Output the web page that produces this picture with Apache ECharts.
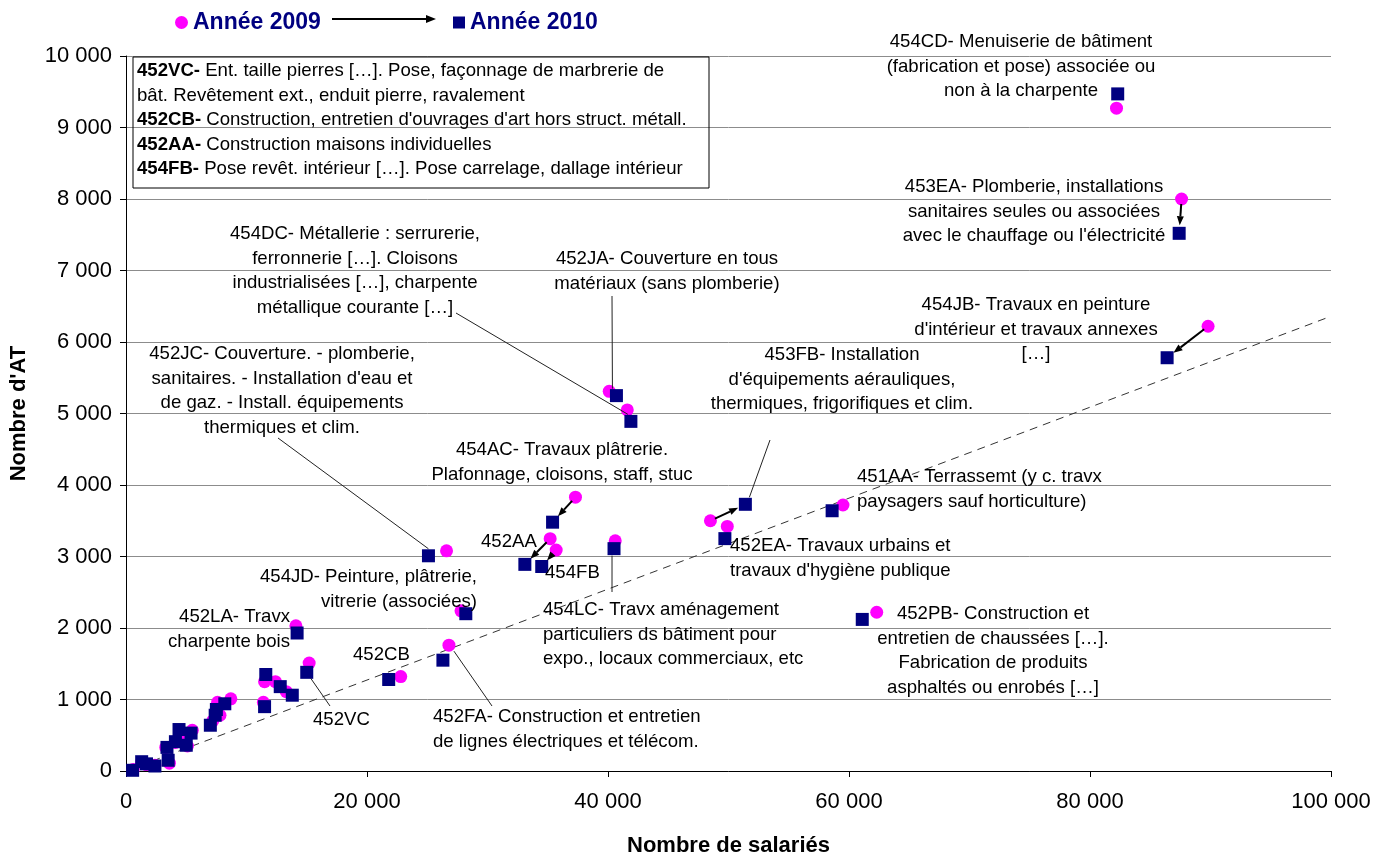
<!DOCTYPE html>
<html><head><meta charset="utf-8">
<script src="https://cdn.jsdelivr.net/npm/echarts@6/dist/echarts.min.js"></script>
<style>html,body{margin:0;padding:0;background:#fff}#c{width:1389px;height:857px}</style>
</head><body><div id="c"></div>
<script>
// ---- DATA ----
const codes = ['454CD','453EA','454JB','452JA','454DC','454AC','452AA','454FB','454LC','452JC','453FB','452EA','451AA','452PB','454JD','452LA','452CB','452FA','452VC',
  '','','','','','','','','','','','','','','','','',''];
const x2009 = [82200, 87600, 89800, 40100, 41600, 37300, 35200, 35700, 40600, 26600, 48500, 49900, 59500, 62300, 27800, 14100, 22800, 26800, 15200,
  11500, 12400, 13300, 11400, 8700, 7600, 7800, 7200, 5500, 5100, 4500, 3300, 4100, 3600, 2400, 1300, 600, 1700];
const y2009 = [9270, 8000, 6220, 5310, 5050, 3830, 3250, 3090, 3220, 3080, 3500, 3420, 3720, 2220, 2240, 2030, 1320, 1760, 1510,
  1250, 1250, 1110, 960, 1010, 960, 780, 700, 570, 350, 430, 330, 400, 110, 80, 120, 20, 90];
const x2010 = [82300, 87400, 86400, 40700, 41900, 35400, 33100, 34500, 40500, 25100, 51400, 49700, 58600, 61100, 28200, 14200, 21800, 26300, 15000,
  11600, 12800, 13800, 11500, 8200, 7500, 7400, 7000, 5400, 5000, 4400, 3400, 4100, 3500, 2400, 1300, 550, 1700];
const y2010 = [9470, 7520, 5780, 5250, 4890, 3480, 2890, 2860, 3110, 3010, 3730, 3250, 3640, 2120, 2200, 1930, 1280, 1550, 1380,
  1350, 1180, 1060, 900, 940, 860, 780, 640, 530, 360, 580, 330, 410, 150, 70, 130, 10, 100];
const trendX = [0, 100000];
const trendY = [0, 6360];
const arrowCodes = ['454AC','452AA','454FB','453FB','453EA','454JB'];
// ---- END DATA ----

const FONT = '"Liberation Sans", Arial, sans-serif';
const fmt = v => String(v).replace(/\B(?=(\d{3})+(?!\d))/g, ' ');
const chart = echarts.init(document.getElementById('c'), null, {renderer: 'canvas'});

const s2009 = x2009.map((x, i) => [x, y2009[i]]);
const s2010 = x2010.map((x, i) => [x, y2010[i]]);
const trend = trendX.map((x, i) => [x, trendY[i]]);

const option = {
  animation: false,
  backgroundColor: '#fff',
  textStyle: {fontFamily: FONT},
  grid: {left: 126, right: 58, top: 56, bottom: 86, containLabel: false, outerBoundsMode: 'none'},
  legend: [
    {data: ['Année 2009'], left: 170, top: 6, icon: 'circle', itemWidth: 13, itemHeight: 13, itemGap: 6,
     textStyle: {fontFamily: FONT, fontSize: 23, fontWeight: 'bold', color: '#000080'}},
    {data: ['Année 2010'], left: 448, top: 6, icon: 'rect', itemWidth: 12, itemHeight: 12, itemGap: 6,
     textStyle: {fontFamily: FONT, fontSize: 23, fontWeight: 'bold', color: '#000080'}}
  ],
  xAxis: {
    type: 'value', min: 0, max: 100000, interval: 20000,
    name: 'Nombre de salariés', nameLocation: 'middle', nameGap: 64,
    nameTextStyle: {fontFamily: FONT, fontSize: 22, fontWeight: 'bold', color: '#000'},
    axisLine: {show: true, lineStyle: {color: '#000', width: 1}},
    axisTick: {show: true, inside: false, length: 6, lineStyle: {color: '#000'}},
    axisLabel: {fontFamily: FONT, fontSize: 22, color: '#000', margin: 20, formatter: fmt},
    splitLine: {show: false}
  },
  yAxis: {
    type: 'value', min: 0, max: 10000, interval: 1000,
    name: "Nombre d'AT", nameLocation: 'middle', nameGap: 96, nameRotate: 90,
    nameTextStyle: {fontFamily: FONT, fontSize: 22, fontWeight: 'bold', color: '#000'},
    axisLine: {show: true, lineStyle: {color: '#000', width: 1}},
    axisTick: {show: true, inside: false, length: 6, lineStyle: {color: '#000'}},
    axisLabel: {fontFamily: FONT, fontSize: 22, color: '#000', margin: 14, formatter: fmt},
    splitLine: {show: true, lineStyle: {color: '#8c8c8c', width: 1}}
  },
  series: [
    {type: 'line', name: 'trend', data: trend, symbol: 'none', silent: true, z: 1,
     lineStyle: {color: '#333', width: 1, type: [8, 6]}},
    {type: 'scatter', name: 'Année 2009', data: s2009, symbol: 'circle', symbolSize: 13, z: 3,
     itemStyle: {color: '#FF00FF', opacity: 1}},
    {type: 'scatter', name: 'Année 2010', data: s2010, symbol: 'rect', symbolSize: 13, z: 4,
     itemStyle: {color: '#000080', opacity: 1}}
  ]
};
chart.setOption(option);

// ---- Annotations (layout in pixels) ----
const LH = 24.5, FS = 18.6;
const notes = [
  {t: '454CD- Menuiserie de bâtiment\n(fabrication et pose) associée ou\nnon à la charpente', x: 1021, y: 42, a: 'center'},
  {t: "453EA- Plomberie, installations\nsanitaires seules ou associées\navec le chauffage ou l'électricité", x: 1034, y: 187, a: 'center'},
  {t: "454JB- Travaux en peinture\nd'intérieur et travaux annexes\n[…]", x: 1036, y: 305, a: 'center'},
  {t: '454DC- Métallerie : serrurerie,\nferronnerie […]. Cloisons\nindustrialisées […], charpente\nmétallique courante […]', x: 355, y: 234, a: 'center'},
  {t: '452JA- Couverture en tous\nmatériaux (sans plomberie)', x: 667, y: 259, a: 'center'},
  {t: "452JC- Couverture. - plomberie,\nsanitaires. - Installation d'eau et\nde gaz. - Install. équipements\nthermiques et clim.", x: 282, y: 354, a: 'center'},
  {t: "453FB- Installation\nd'équipements aérauliques,\nthermiques, frigorifiques et clim.", x: 842, y: 355, a: 'center'},
  {t: '454AC- Travaux plâtrerie.\nPlafonnage, cloisons, staff, stuc', x: 562, y: 450, a: 'center'},
  {t: '451AA- Terrassemt (y c. travx\npaysagers sauf horticulture)', x: 857, y: 477, a: 'left'},
  {t: "452EA- Travaux urbains et\ntravaux d'hygiène publique", x: 730, y: 546, a: 'left'},
  {t: '452AA', x: 481, y: 542, a: 'left'},
  {t: '454FB', x: 545, y: 573, a: 'left'},
  {t: '454JD- Peinture, plâtrerie,\nvitrerie (associées)', x: 477, y: 577, a: 'right'},
  {t: '454LC- Travx aménagement\nparticuliers ds bâtiment pour\nexpo., locaux commerciaux, etc', x: 543, y: 610, a: 'left'},
  {t: '452PB- Construction et\nentretien de chaussées […].\nFabrication de produits\nasphaltés ou enrobés […]', x: 993, y: 614, a: 'center'},
  {t: '452LA- Travx\ncharpente bois', x: 290, y: 617, a: 'right'},
  {t: '452CB', x: 353, y: 655, a: 'left'},
  {t: '452VC', x: 313, y: 720, a: 'left'},
  {t: "452FA- Construction et entretien\nde lignes électriques et télécom.", x: 433, y: 717, a: 'left'}
];
// leader lines: [code, year, dx, dy, anchorX, anchorY]
const leaders = [
  ['454DC', 2010, -3, -7, 456, 313],
  ['452JA', 2010, -4, -7, 612, 296],
  ['452JC', 2010, 0, -7, 278, 438],
  ['453FB', 2010, 4, -7, 770, 440],
  ['454LC', 2010, -2, 7, 612, 592],
  ['452FA', 2009, 5, 6, 492, 706],
  ['452VC', 2010, 4, 6, 330, 706]
];

function px(x, y) { return chart.convertToPixel({xAxisIndex: 0, yAxisIndex: 0}, [x, y]); }

const g = [];
notes.forEach(n => {
  g.push({type: 'text', z: 50, silent: true, style: {
    text: n.t, x: n.x, y: n.y - LH / 2, align: n.a, verticalAlign: 'top',
    font: FS + 'px ' + FONT, lineHeight: LH, fill: '#000'}});
});
// box
g.push({type: 'rect', z: 50, silent: true, shape: {x: 133, y: 57, width: 576, height: 131},
  style: {fill: 'none', stroke: '#000', lineWidth: 1}});
g.push({type: 'text', z: 51, silent: true, style: {
  text: '{b|452VC-} Ent. taille pierres […]. Pose, façonnage de marbrerie de\nbât. Revêtement ext., enduit pierre, ravalement\n{b|452CB-} Construction, entretien d\'ouvrages d\'art hors struct. métall.\n{b|452AA-} Construction maisons individuelles\n{b|454FB-} Pose revêt. intérieur […]. Pose carrelage, dallage intérieur',
  x: 137, y: 71 - LH / 2, align: 'left', verticalAlign: 'top', font: FS + 'px ' + FONT, lineHeight: LH, fill: '#000',
  rich: {b: {fontWeight: 'bold', fontFamily: FONT, fontSize: FS, lineHeight: LH}}}});
// legend arrow
g.push({type: 'line', z: 50, silent: true, shape: {x1: 332, y1: 19, x2: 428, y2: 19}, style: {stroke: '#000', lineWidth: 2}});
g.push({type: 'polygon', z: 50, silent: true, shape: {points: [[436, 19], [426, 15], [426, 23]]}, style: {fill: '#000'}});

leaders.forEach(l => {
  const i = codes.indexOf(l[0]);
  const p = l[1] === 2009 ? px(x2009[i], y2009[i]) : px(x2010[i], y2010[i]);
  g.push({type: 'line', z: 40, silent: true, shape: {x1: l[4], y1: l[5], x2: p[0] + l[2], y2: p[1] + l[3]},
    style: {stroke: '#222', lineWidth: 1}});
});

arrowCodes.forEach(c => {
  const i = codes.indexOf(c);
  const a = px(x2009[i], y2009[i]);
  const b = px(x2010[i], y2010[i]);
  const dx = b[0] - a[0], dy = b[1] - a[1];
  const L = Math.hypot(dx, dy), ux = dx / L, uy = dy / L;
  const s = [a[0] + ux * 5, a[1] + uy * 5];
  const e = [b[0] - ux * 8, b[1] - uy * 8];
  const hl = 9, hw = 3.5;
  const base = [e[0] - ux * hl, e[1] - uy * hl];
  g.push({type: 'line', z: 45, silent: true, shape: {x1: s[0], y1: s[1], x2: base[0], y2: base[1]},
    style: {stroke: '#000', lineWidth: 2}});
  g.push({type: 'polygon', z: 45, silent: true, shape: {points: [e,
    [base[0] - uy * hw, base[1] + ux * hw], [base[0] + uy * hw, base[1] - ux * hw]]}, style: {fill: '#000'}});
});

chart.setOption({graphic: g});
</script>
</body></html>
